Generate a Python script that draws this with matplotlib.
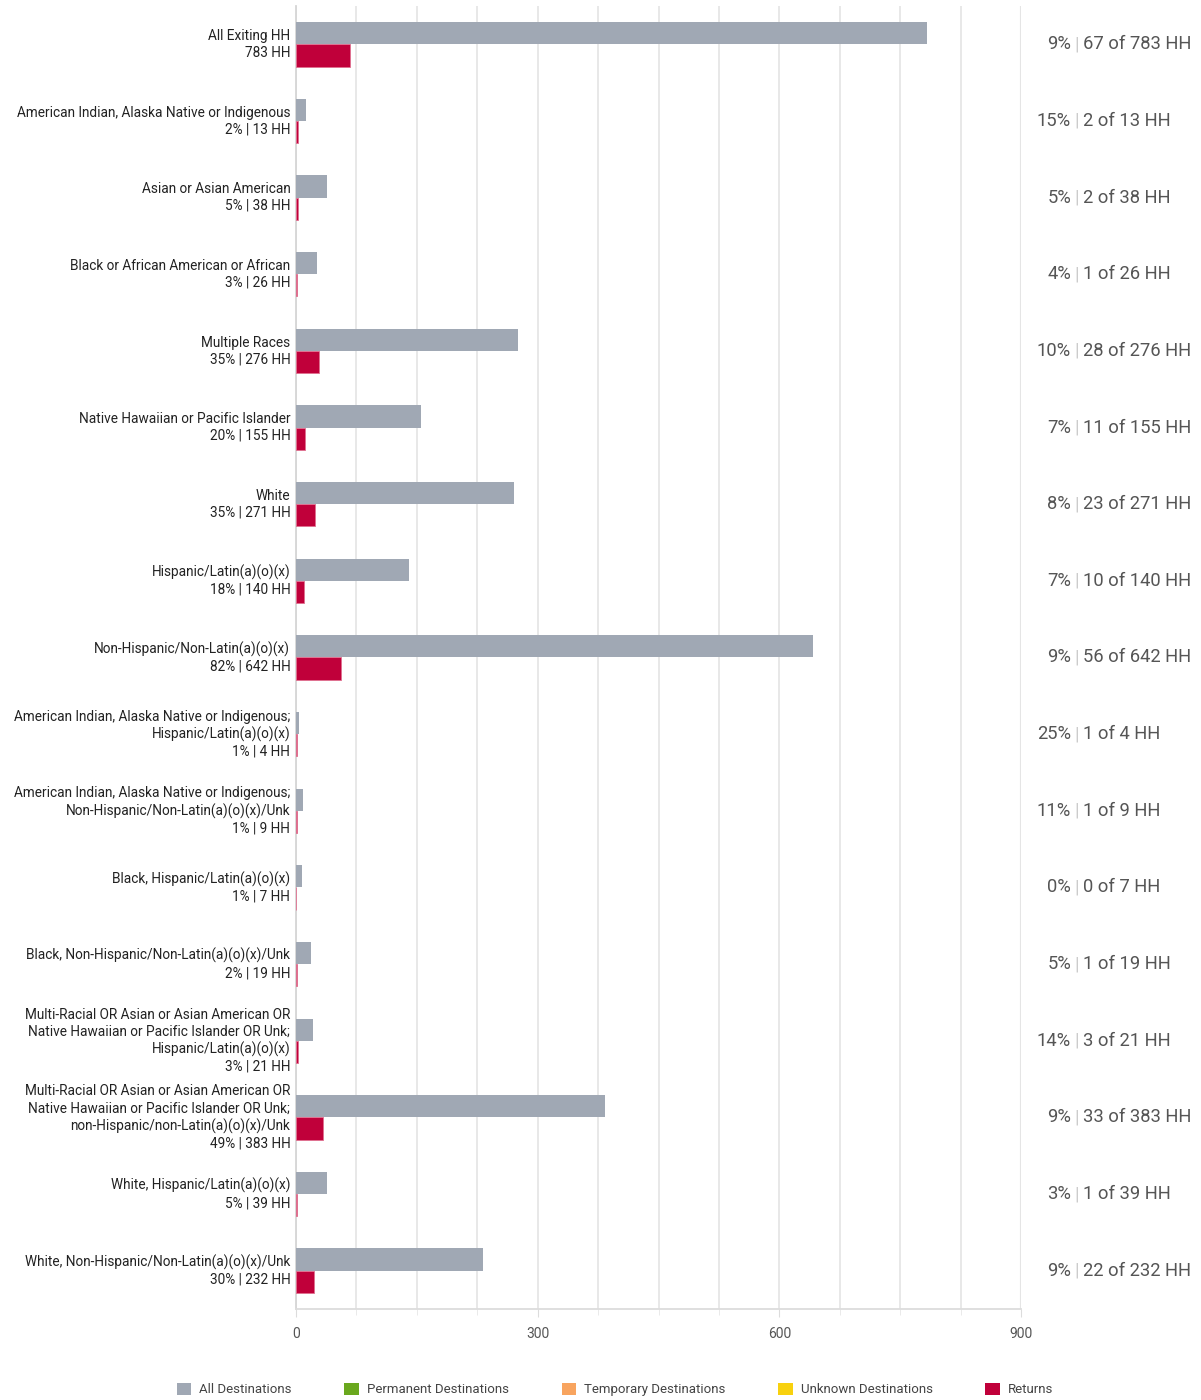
import matplotlib.pyplot as plt
import matplotlib.transforms as mtransforms
from matplotlib.patches import Patch
from matplotlib.ticker import MultipleLocator
import numpy as np

plt.rcParams['font.family'] = ['Roboto', 'DejaVu Sans']

# 数据
categories = [
    'All Exiting HH',
    'American Indian, Alaska Native or Indigenous',
    'Asian or Asian American',
    'Black or African American or African',
    'Multiple Races',
    'Native Hawaiian or Pacific Islander',
    'White',
    'Hispanic/Latin(a)(o)(x)',
    'Non-Hispanic/Non-Latin(a)(o)(x)',
    'American Indian, Alaska Native or Indigenous;\nHispanic/Latin(a)(o)(x)',
    'American Indian, Alaska Native or Indigenous;\nNon-Hispanic/Non-Latin(a)(o)(x)/Unk',
    'Black, Hispanic/Latin(a)(o)(x)',
    'Black, Non-Hispanic/Non-Latin(a)(o)(x)/Unk',
    'Multi-Racial OR Asian or Asian American OR\nNative Hawaiian or Pacific Islander OR Unk;\nHispanic/Latin(a)(o)(x)',
    'Multi-Racial OR Asian or Asian American OR\nNative Hawaiian or Pacific Islander OR Unk;\nnon-Hispanic/non-Latin(a)(o)(x)/Unk',
    'White, Hispanic/Latin(a)(o)(x)',
    'White, Non-Hispanic/Non-Latin(a)(o)(x)/Unk',
]
all_hh = [783, 13, 38, 26, 276, 155, 271, 140, 642, 4, 9, 7, 19, 21, 383, 39, 232]
returns = [67, 2, 2, 1, 28, 11, 23, 10, 56, 1, 1, 0, 1, 3, 33, 1, 22]
share_pct = [None, 2, 5, 3, 35, 20, 35, 18, 82, 1, 1, 1, 2, 3, 49, 5, 30]
return_pct = [9, 15, 5, 4, 10, 7, 8, 7, 9, 25, 11, 0, 5, 14, 9, 3, 9]

legend_labels = ['All Destinations', 'Permanent Destinations', 'Temporary Destinations',
                 'Unknown Destinations', 'Returns']
legend_colors = ['#a0a8b4', '#6aa81e', '#f8a45f', '#f8d10e', '#c0003a']

gray = '#a0a8b4'
red = '#c0003a'

fig = plt.figure(figsize=(12.01, 14), dpi=100)
ax = fig.add_axes([296 / 1201, 1 - 1309 / 1400, 725 / 1201, 1303 / 1400])

n = len(categories)
y = np.arange(n)
h = 0.29
ax.barh(y - h / 2, all_hh, height=h, color=gray, zorder=3)
ax.barh(y + h / 2, returns, height=h, color=red, edgecolor='#e07090', linewidth=0.6, zorder=3)

ax.set_ylim(n - 0.5, -0.5)
ax.set_xlim(0, 900)
ax.xaxis.set_major_locator(MultipleLocator(300))
ax.xaxis.set_minor_locator(MultipleLocator(75))
ax.grid(axis='x', which='both', color='#e6e6e6', linewidth=1.3, zorder=0)
ax.set_yticks([])
ax.tick_params(axis='x', which='major', length=6, color='#dcdcdc', labelsize=10,
               labelcolor='#555555', pad=7)
ax.tick_params(axis='x', which='minor', length=4, color='#e6e6e6')
for s in ['top', 'right']:
    ax.spines[s].set_visible(False)
ax.spines['left'].set_color('#d6d6d6')
ax.spines['left'].set_linewidth(1.3)
ax.spines['bottom'].set_color('#dcdcdc')
ax.spines['bottom'].set_linewidth(1.3)
ax.axvline(900, color='#dcdcdc', linewidth=1.5, zorder=1)

# 左侧标签
for i, cat in enumerate(categories):
    if share_pct[i] is None:
        sub = f'{all_hh[i]} HH'
    else:
        sub = f'{share_pct[i]}% | {all_hh[i]} HH'
    ax.text(-7, i, cat + '\n' + sub, ha='right', va='center',
            fontsize=9.8, color='#222222', linespacing=1.25, clip_on=False)

# 右侧标签（x 用 figure 坐标，y 用数据坐标）
trans = mtransforms.blended_transform_factory(fig.transFigure, ax.transData)
for i in range(n):
    ax.text(1071 / 1201, i, f'{return_pct[i]}%', transform=trans,
            ha='right', va='center', fontsize=13.2, color='#555555')
    ax.text(1077 / 1201, i, '|', transform=trans,
            ha='center', va='center', fontsize=13.2, color='#cccccc')
    ax.text(1083 / 1201, i, f'{returns[i]} of {all_hh[i]} HH', transform=trans,
            ha='left', va='center', fontsize=13.2, color='#555555')

handles = [Patch(facecolor=c, edgecolor='none') for c in legend_colors]
fig.legend(handles, legend_labels, loc='center', bbox_to_anchor=(0.512, 0.0075), ncol=5,
           frameon=False, fontsize=9.5, handlelength=1.1, handleheight=1.1,
           handletextpad=0.6, columnspacing=4.0, labelcolor='#444444')

fig.savefig('out.png', dpi=100)
